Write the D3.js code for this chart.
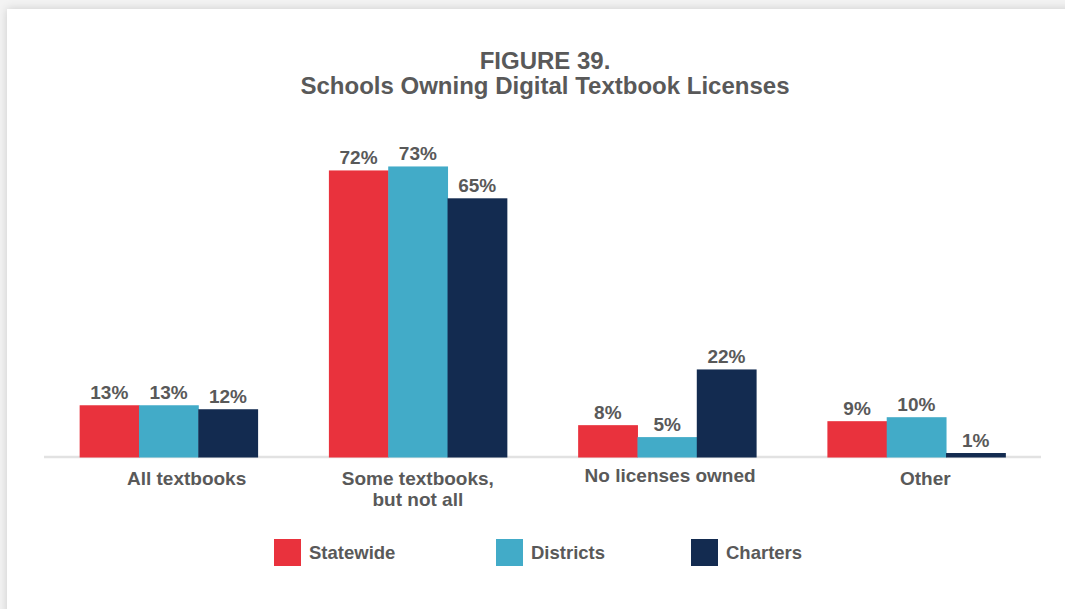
<!DOCTYPE html>
<html>
<head>
<meta charset="utf-8">
<script src="https://cdn.jsdelivr.net/npm/d3@7"></script>
<style>
  html, body { margin: 0; padding: 0; }
  body {
    width: 1065px; height: 609px; overflow: hidden;
    background: #f3f3f3;
    font-family: "Liberation Sans", Arial, sans-serif;
  }
  #card {
    position: absolute; left: 7px; top: 9px;
    width: 1080px; height: 620px;
    background: #fff;
    box-shadow: 0 0 9px rgba(0, 0, 0, 0.16);
  }
  svg { position: absolute; left: 0; top: 0; }
  .title { font-weight: bold; font-size: 24px; fill: #595959; }
  .bar-label { font-weight: bold; font-size: 19px; fill: #595959; }
  .cat-label { font-weight: bold; font-size: 19px; fill: #595959; }
  .legend-label { font-weight: bold; font-size: 18.5px; fill: #595959; }
</style>
</head>
<body>
<div id="card"></div>
<svg id="chart"></svg>
<script>
// Data
const categories = ['All textbooks', 'Some textbooks, but not all', 'No licenses owned', 'Other'];
const categoryLines = [['All textbooks'], ['Some textbooks,', 'but not all'], ['No licenses owned'], ['Other']];
const seriesNames = ['Statewide', 'Districts', 'Charters'];
const statewide = [13, 72, 8, 9];
const districts = [13, 73, 5, 10];
const charters = [12, 65, 22, 1];
const titleLines = ['FIGURE 39.', 'Schools Owning Digital Textbook Licenses'];

const colors = ['#e9323d', '#42abc8', '#132b50'];

class GroupedBarchart {

  constructor(_config) {
    this.config = {
      parentElement: _config.parentElement,
      containerWidth: _config.containerWidth || 1065,
      containerHeight: _config.containerHeight || 609,
      plotLeft: 44,
      plotRight: 1041,
      baseline: 457,
      top: 59,
      // category labels in the original are not quite centred under their groups
      labelDx: [18, 0, 3, 9],
      labelDy: [0, 0, -3, 0],
      legendX: [274, 496, 691],
      legendY: 539
    };
    this.initVis();
  }

  initVis() {
    let vis = this;

    vis.svg = d3.select(vis.config.parentElement)
        .attr('width', vis.config.containerWidth)
        .attr('height', vis.config.containerHeight);

    vis.xScale = d3.scaleBand()
        .domain(categories)
        .range([vis.config.plotLeft, vis.config.plotRight])
        .paddingInner(0.286)
        .paddingOuter(0.143);

    vis.xSub = d3.scaleBand()
        .domain(seriesNames)
        .range([0, vis.xScale.bandwidth()]);

    vis.yScale = d3.scaleLinear()
        .domain([0, 100])
        .range([vis.config.baseline, vis.config.top]);

    vis.color = d3.scaleOrdinal()
        .domain(seriesNames)
        .range(colors);

    vis.updateVis();
  }

  updateVis() {
    let vis = this;
    const values = [statewide, districts, charters];
    vis.data = categories.map((c, i) => ({
      category: c,
      index: i,
      lines: categoryLines[i],
      values: seriesNames.map((s, j) => ({ series: s, value: values[j][i] }))
    }));
    vis.renderVis();
  }

  renderVis() {
    let vis = this;

    // Title
    vis.svg.append('text')
        .attr('class', 'title')
        .attr('x', 545)
        .attr('y', 69)
        .attr('text-anchor', 'middle')
      .selectAll('tspan')
        .data(titleLines)
      .join('tspan')
        .attr('x', 545)
        .attr('dy', (d, i) => i === 0 ? 0 : 25)
        .text(d => d);

    // Baseline
    vis.svg.append('line')
        .attr('x1', vis.config.plotLeft)
        .attr('x2', vis.config.plotRight)
        .attr('y1', vis.yScale(0))
        .attr('y2', vis.yScale(0))
        .attr('stroke', '#e2e2e2')
        .attr('stroke-width', 2.5);

    const groups = vis.svg.selectAll('.group')
        .data(vis.data)
      .join('g')
        .attr('class', 'group')
        .attr('transform', d => `translate(${vis.xScale(d.category)},0)`);

    groups.selectAll('rect')
        .data(d => d.values)
      .join('rect')
        .attr('x', d => vis.xSub(d.series))
        .attr('width', vis.xSub.bandwidth() + 0.5)
        .attr('y', d => vis.yScale(d.value))
        .attr('height', d => vis.yScale(0) - vis.yScale(d.value) + 0.5)
        .attr('fill', d => vis.color(d.series));

    groups.selectAll('.bar-label')
        .data(d => d.values)
      .join('text')
        .attr('class', 'bar-label')
        .attr('x', d => vis.xSub(d.series) + vis.xSub.bandwidth() / 2)
        .attr('y', d => vis.yScale(d.value) - 6)
        .attr('text-anchor', 'middle')
        .text(d => d.value + '%');

    // Category labels
    groups.append('text')
        .attr('class', 'cat-label')
        .attr('text-anchor', 'middle')
        .attr('y', d => vis.yScale(0) + 28 + vis.config.labelDy[d.index])
      .selectAll('tspan')
        .data(d => d.lines.map(l => ({ line: l, dx: vis.config.labelDx[d.index] })))
      .join('tspan')
        .attr('x', d => vis.xScale.bandwidth() / 2 + d.dx)
        .attr('dy', (d, i) => i === 0 ? 0 : 21)
        .text(d => d.line);

    // Legend
    const legend = vis.svg.selectAll('.legend')
        .data(seriesNames)
      .join('g')
        .attr('class', 'legend')
        .attr('transform', (d, i) => `translate(${vis.config.legendX[i]},${vis.config.legendY})`);

    legend.append('rect')
        .attr('width', 27)
        .attr('height', 27)
        .attr('fill', d => vis.color(d));

    legend.append('text')
        .attr('class', 'legend-label')
        .attr('x', 35)
        .attr('y', 20)
        .text(d => d);
  }
}

new GroupedBarchart({ parentElement: '#chart' });
</script>
</body>
</html>
